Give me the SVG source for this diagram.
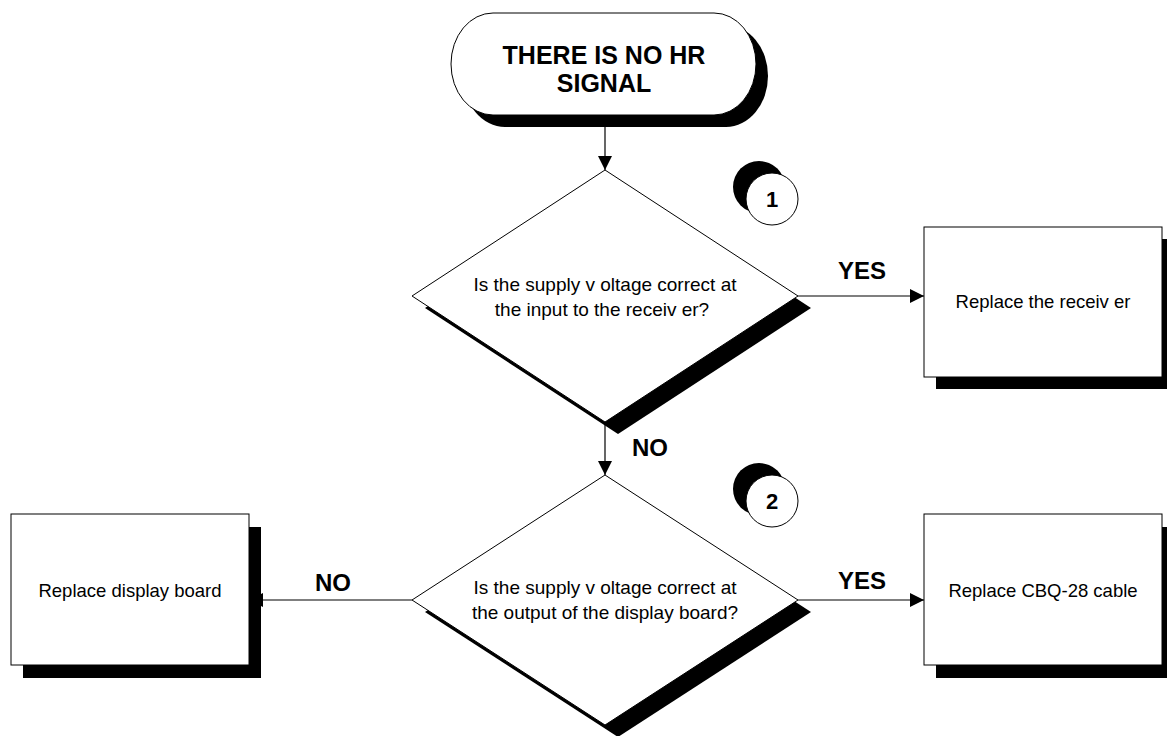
<svg xmlns="http://www.w3.org/2000/svg" width="1167" height="736" viewBox="0 0 1167 736">
  <defs>
    <marker id="arr" markerUnits="userSpaceOnUse" markerWidth="16" markerHeight="16" viewBox="0 0 16 16" refX="15" refY="8" orient="auto">
      <path d="M1,1 L15,8 L1,15 Z" fill="#000"/>
    </marker>
  </defs>
  <style>
    .shape { fill: #fff; stroke: #000; stroke-width: 1; }
    .shadow { fill: #000; stroke: none; }
    .conn { fill: none; stroke: #000; stroke-width: 1.2; }
    .txt { font-family: "Liberation Sans", Arial, sans-serif; font-size: 18.5px; fill: #000; text-anchor: middle; }
    .dtxt { font-size: 19px; }
    .bold { font-family: "Liberation Sans", Arial, sans-serif; font-weight: bold; font-size: 24px; fill: #000; text-anchor: middle; }
  </style>
  <rect width="1167" height="736" fill="#fff"/>

  <g id="connectors">
    <line class="conn" x1="605" y1="115" x2="605" y2="170" marker-end="url(#arr)"/>
    <line class="conn" x1="798" y1="296" x2="924" y2="296" marker-end="url(#arr)"/>
    <line class="conn" x1="605" y1="422" x2="605" y2="475" marker-end="url(#arr)"/>
    <line class="conn" x1="798" y1="600" x2="924" y2="600" marker-end="url(#arr)"/>
    <line class="conn" x1="412" y1="600" x2="249" y2="600" marker-end="url(#arr)"/>
    <text class="bold" x="862" y="279">YES</text>
    <text class="bold" x="650" y="456">NO</text>
    <text class="bold" x="862" y="589">YES</text>
    <text class="bold" x="333" y="591">NO</text>
  </g>

  <g id="start">
    <rect class="shadow" x="463" y="25" width="305" height="102" rx="42" ry="51"/>
    <rect class="shape" x="451" y="13" width="305" height="102" rx="42" ry="51"/>
    <text class="bold" x="604" y="64" style="font-size:25px">THERE IS NO HR</text>
    <text class="bold" x="604" y="92" style="font-size:25px">SIGNAL</text>
  </g>

  <g id="decision1">
    <polygon class="shadow" points="618,182 811,308 618,434 425,308"/>
    <polygon class="shape" points="605,170 798,296 605,422 412,296"/>
    <text class="txt dtxt" x="605" y="291">Is the supply v oltage correct at</text>
    <text class="txt dtxt" x="602" y="316">the input to the receiv er?</text>
  </g>

  <g id="marker1">
    <circle class="shadow" cx="759" cy="187" r="26"/>
    <circle class="shape" cx="772" cy="199" r="26"/>
    <text class="bold" x="772" y="207" style="font-size:22px">1</text>
  </g>

  <g id="receiver">
    <rect class="shadow" x="936" y="239" width="238" height="150"/>
    <rect class="shape" x="924" y="227" width="238" height="150"/>
    <text class="txt" x="1043" y="308">Replace the receiv er</text>
  </g>

  <g id="decision2">
    <polygon class="shadow" points="618,487 811,612 618,737 425,612"/>
    <polygon class="shape" points="605,475 798,600 605,725 412,600"/>
    <text class="txt dtxt" x="605" y="594">Is the supply v oltage correct at</text>
    <text class="txt dtxt" x="605" y="619">the output of the display board?</text>
  </g>

  <g id="marker2">
    <circle class="shadow" cx="759" cy="489" r="26"/>
    <circle class="shape" cx="772" cy="501" r="26"/>
    <text class="bold" x="772" y="509" style="font-size:22px">2</text>
  </g>

  <g id="display-board">
    <rect class="shadow" x="23" y="527" width="238" height="151"/>
    <rect class="shape" x="11" y="514" width="238" height="151"/>
    <text class="txt" x="130" y="597">Replace display board</text>
  </g>

  <g id="cable">
    <rect class="shadow" x="936" y="527" width="238" height="151"/>
    <rect class="shape" x="924" y="514" width="238" height="151"/>
    <text class="txt" x="1043" y="597">Replace CBQ-28 cable</text>
  </g>
</svg>
